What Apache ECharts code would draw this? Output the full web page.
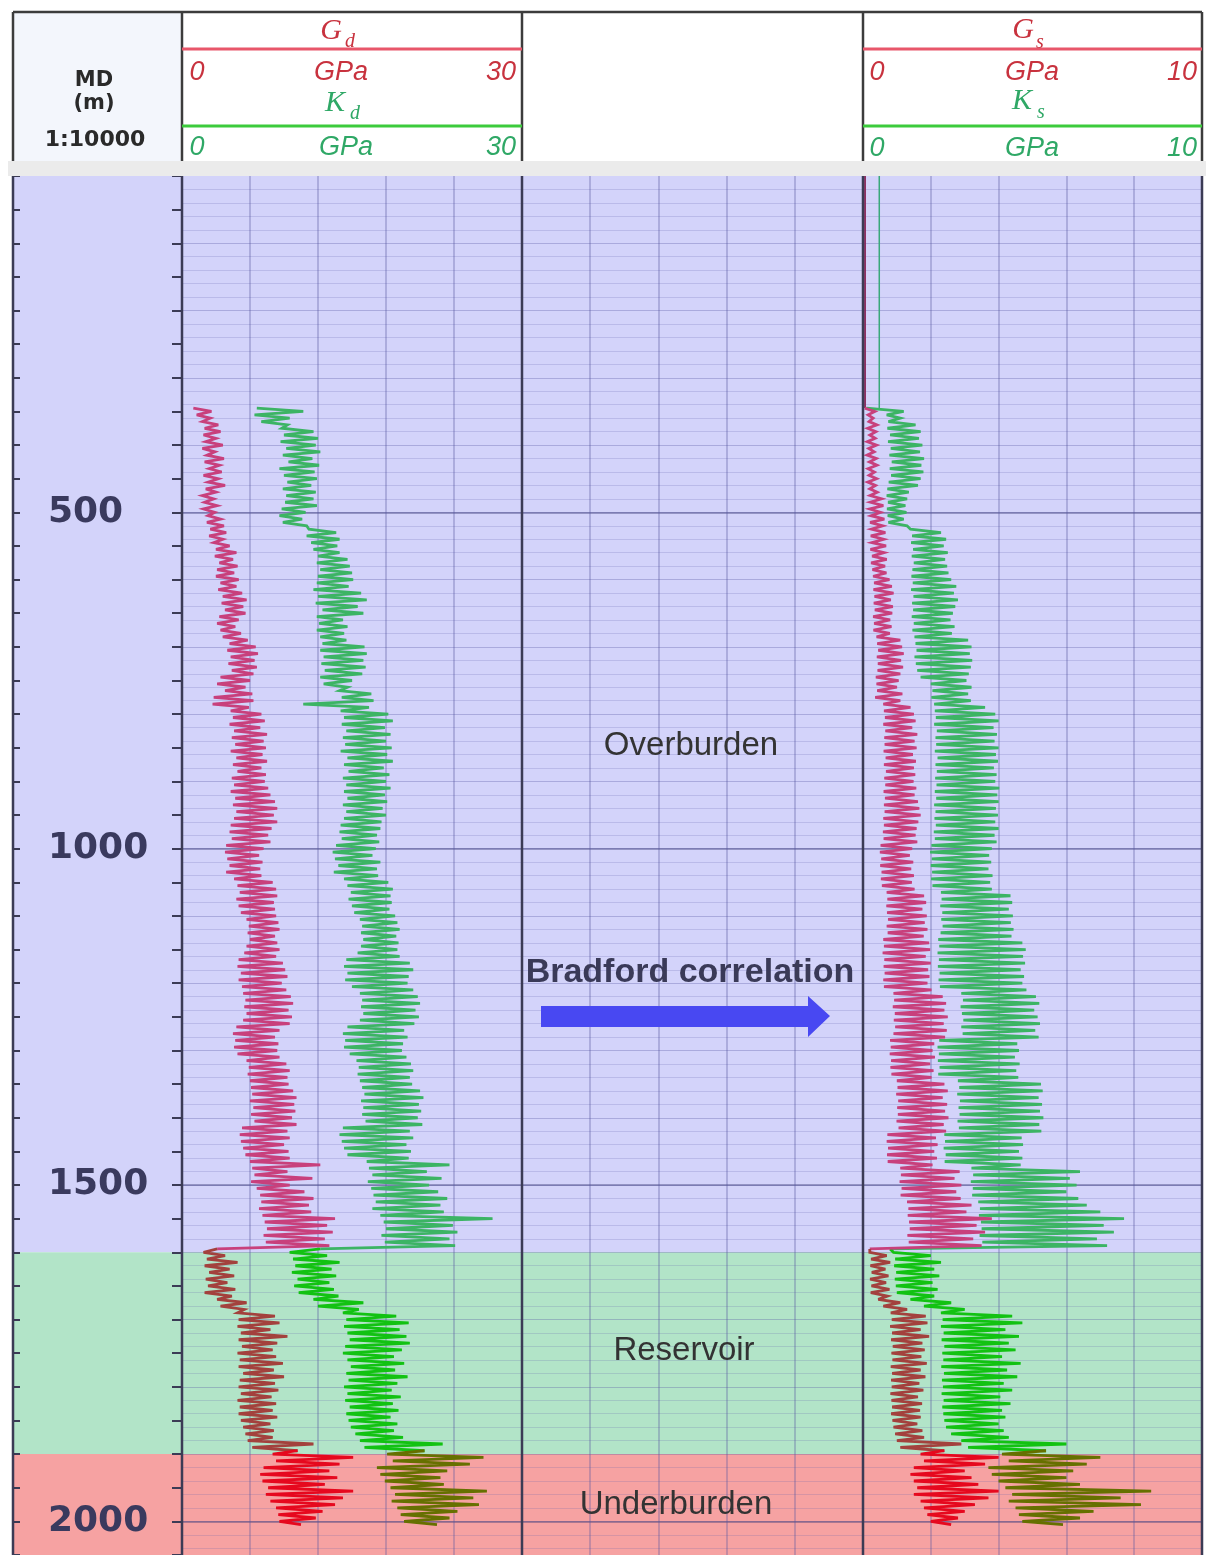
<!DOCTYPE html>
<html>
<head>
<meta charset="utf-8">
<title>Dynamic and static moduli log</title>
<script src="https://cdn.jsdelivr.net/npm/echarts@6/dist/echarts.min.js"></script>
<style>
  html, body { margin: 0; padding: 0; background: #ffffff; }
  #chart { width: 1206px; height: 1555px; }
</style>
</head>
<body>
<div id="chart"></div>
<script>
// ---------------------------------------------------------------
// Depth reference
// ---------------------------------------------------------------
const depthMin = 0;
const depthMax = 2050;
const depthTickStep = 50;
const depthLabels = [500, 1000, 1500, 2000];

// Zones along the well
const zoneNames = ['Overburden', 'Reservoir', 'Underburden'];
const zoneTops = [0, 1600, 1900];
const zoneBases = [1600, 1900, 2050];

// Track scales (GPa)
const dynamicScale = [0, 30];
const staticScale = [0, 10];

// Log samples are read every 5 m from the top of each zone section
const SAMPLE_STEP = 5;
const overburdenTop = 345;
const reservoirTop = 1600;
const underburdenTop = 1900;

// ---------------------------------------------------------------
// Dynamic shear modulus Gd (GPa)
// ---------------------------------------------------------------
const gdOverburden = [
  1.0, 2.6, 1.3, 2.5, 1.8, 3.2, 2.0, 3.4, 1.9, 3.0,   // 345-390
  2.1, 3.6, 1.8, 2.9, 2.2, 3.7, 2.0, 3.3, 2.4, 3.5,   // 395-440
  1.9, 3.2, 2.3, 3.8, 2.1, 3.0, 1.8, 2.8, 2.0, 3.1,   // 445-490
  1.9, 2.9, 2.3, 3.4, 2.2, 3.7, 2.5, 3.9, 2.4, 3.6,   // 495-540
  2.8, 4.2, 3.0, 4.8, 2.9, 4.5, 3.3, 4.9, 3.1, 4.6,   // 545-590
  3.0, 5.0, 3.4, 4.8, 3.2, 5.3, 3.6, 5.7, 3.5, 5.4,   // 595-640
  3.8, 5.6, 3.3, 5.0, 3.1, 4.7, 3.4, 5.2, 3.6, 5.8,   // 645-690
  4.2, 6.5, 4.0, 6.7, 4.3, 6.4, 4.1, 6.6, 4.4, 6.3,   // 695-740
  3.4, 6.0, 3.1, 5.6, 3.8, 6.2, 2.8, 6.3, 2.7, 5.9,   // 745-790
  4.3, 7.0, 4.5, 7.3, 4.2, 6.9, 4.6, 7.5, 4.4, 7.2,   // 795-840
  4.7, 7.4, 4.3, 7.1, 4.8, 7.5, 4.5, 7.0, 4.9, 7.4,   // 845-890
  4.4, 7.3, 4.6, 7.6, 4.3, 7.8, 4.7, 8.2, 4.5, 8.4,   // 895-940
  4.8, 8.1, 4.6, 8.4, 4.3, 7.9, 4.2, 7.6, 4.4, 7.8,   // 945-990
  3.9, 7.2, 3.8, 6.8, 4.0, 7.1, 4.2, 6.9, 3.9, 7.0,   // 995-1040
  4.6, 8.0, 4.9, 8.3, 5.1, 8.4, 4.8, 8.1, 5.0, 8.2,   // 1045-1090
  5.2, 8.3, 5.7, 8.5, 5.9, 8.6, 5.8, 8.2, 6.0, 8.4,   // 1095-1140
  5.7, 8.6, 5.5, 8.3, 5.0, 8.9, 4.9, 9.1, 5.2, 9.3,   // 1145-1190
  5.0, 8.8, 5.3, 9.2, 5.4, 9.6, 5.6, 9.8, 5.5, 9.4,   // 1195-1240
  5.7, 9.7, 5.4, 9.5, 4.8, 8.6, 4.5, 8.2, 4.7, 8.5,   // 1245-1290
  4.6, 8.4, 4.9, 8.6, 5.7, 9.2, 5.9, 9.5, 5.8, 9.3,   // 1295-1340
  6.0, 9.4, 6.1, 9.8, 6.2, 10.1, 6.0, 9.9, 6.3, 10.0, // 1345-1390
  6.1, 9.7, 6.4, 10.1, 5.3, 9.3, 5.1, 9.5, 5.2, 9.0,  // 1395-1440
  5.4, 9.4, 5.6, 9.5, 6.0, 12.2, 6.2, 9.3, 6.4, 11.5, // 1445-1490
  6.1, 9.5, 6.6, 10.8, 6.9, 11.6, 7.0, 11.2, 6.8, 11.4, // 1495-1540
  7.1, 13.5, 7.3, 12.8, 7.5, 13.3, 7.2, 12.6, 7.4, 13.0, // 1545-1590
  3.1                                                  // 1595
];
const gdReservoir = [
  1.9, 3.8, 2.2, 4.9, 2.0, 4.2, 2.4, 4.6, 2.1, 4.0,   // 1600-1645
  2.3, 4.7, 2.0, 4.4, 3.1, 5.7, 3.4, 5.5, 4.9, 8.2,   // 1650-1695
  5.0, 8.6, 4.9, 7.8, 5.2, 9.3, 5.0, 8.4, 5.3, 8.0,   // 1700-1745
  4.9, 8.3, 5.1, 8.9, 5.0, 8.1, 5.4, 9.0, 5.1, 8.2,   // 1750-1795
  5.0, 8.5, 5.2, 7.9, 4.9, 8.3, 5.1, 8.0, 5.0, 8.4,   // 1800-1845
  5.2, 7.8, 5.4, 8.1, 5.6, 8.0, 5.8, 11.6, 6.2, 10.2  // 1850-1895
];
const gdUnderburden = [
  8.0, 15.1, 8.3, 13.9, 7.2, 13.0, 6.9, 13.7, 7.1, 12.6, // 1900-1945
  7.6, 15.1, 7.4, 14.2, 7.8, 13.5, 8.3, 12.4, 8.5, 11.8, // 1950-1995
  8.6, 10.5                                              // 2000-2005
];

// ---------------------------------------------------------------
// Dynamic bulk modulus Kd (GPa)
// ---------------------------------------------------------------
const kdOverburden = [
  6.6, 10.7, 6.4, 9.5, 7.0, 9.3, 8.8, 11.6, 9.0, 12.0,   // 345-390
  8.7, 11.8, 9.2, 12.2, 8.9, 11.5, 9.4, 12.1, 8.6, 11.7, // 395-440
  9.0, 11.9, 9.3, 11.4, 8.9, 11.8, 9.2, 11.6, 9.1, 11.9, // 445-490
  8.8, 10.9, 8.6, 10.6, 8.9, 11.0, 11.2, 13.6, 11.0, 13.9, // 495-540
  11.4, 13.7, 11.6, 13.9, 12.0, 14.6, 11.9, 14.8, 12.2, 15.0, // 545-590
  12.0, 15.1, 11.9, 14.7, 11.6, 15.8, 12.0, 16.3, 11.8, 15.5, // 595-640
  12.4, 16.0, 11.9, 14.2, 12.1, 14.6, 11.9, 14.3, 12.2, 14.5, // 645-690
  12.4, 16.1, 12.2, 16.3, 12.5, 16.0, 12.3, 16.2, 12.6, 15.9, // 695-740
  12.2, 15.0, 12.5, 14.6, 13.9, 16.7, 14.1, 16.9, 10.7, 16.5, // 745-790
  14.0, 18.2, 14.3, 18.6, 14.1, 17.9, 14.5, 18.4, 14.2, 18.0, // 795-840
  14.4, 18.5, 14.0, 18.1, 14.6, 18.6, 14.3, 17.8, 14.7, 18.3, // 845-890
  14.2, 18.0, 14.5, 18.4, 14.3, 17.9, 14.6, 18.1, 14.2, 17.7, // 895-940
  14.5, 18.0, 14.3, 17.6, 14.0, 17.5, 13.9, 17.2, 14.1, 17.4, // 945-990
  13.6, 17.1, 13.3, 16.8, 13.5, 17.5, 13.8, 17.2, 13.4, 17.3, // 995-1040
  14.3, 18.2, 14.6, 18.6, 14.9, 18.4, 14.7, 18.5, 15.0, 18.3, // 1045-1090
  15.2, 18.8, 15.7, 19.0, 15.9, 19.2, 15.8, 18.9, 16.0, 19.1, // 1095-1140
  15.8, 19.0, 15.5, 19.2, 14.5, 20.1, 14.3, 20.4, 14.6, 20.0, // 1145-1190
  14.4, 19.9, 15.0, 20.4, 15.7, 20.8, 15.9, 21.0, 15.8, 20.6, // 1195-1240
  16.0, 20.9, 15.7, 20.5, 14.6, 19.6, 14.2, 19.9, 14.4, 19.5, // 1245-1290
  14.3, 19.4, 14.8, 19.8, 15.4, 20.2, 15.6, 20.4, 15.5, 20.1, // 1295-1340
  15.7, 20.3, 15.9, 21.0, 16.1, 21.3, 15.8, 20.9, 16.0, 21.1, // 1345-1390
  15.9, 20.8, 16.2, 21.2, 14.2, 20.1, 13.9, 20.4, 14.1, 19.8, // 1395-1440
  14.3, 20.2, 14.6, 20.0, 16.3, 23.6, 16.5, 21.6, 16.8, 22.9, // 1445-1490
  16.4, 21.8, 16.7, 22.6, 16.9, 23.4, 17.1, 22.8, 16.8, 23.1, // 1495-1540
  17.5, 27.4, 17.8, 23.9, 18.0, 24.3, 17.6, 23.6, 17.9, 24.1, // 1545-1590
  12.2                                                         // 1595
];
const kdReservoir = [
  9.5, 12.8, 9.8, 13.9, 10.0, 13.2, 9.7, 13.6, 10.2, 13.0,   // 1600-1645
  9.9, 13.4, 10.3, 13.8, 11.6, 16.0, 12.0, 15.6, 14.2, 18.9, // 1650-1695
  14.5, 20.0, 14.3, 19.2, 14.6, 19.8, 14.8, 20.1, 14.4, 19.4, // 1700-1745
  14.2, 18.7, 14.6, 19.6, 14.9, 18.8, 14.5, 19.9, 14.7, 19.0, // 1750-1795
  14.3, 18.5, 14.6, 19.3, 14.4, 18.6, 14.8, 19.1, 14.5, 18.4, // 1800-1845
  14.7, 19.0, 14.9, 18.7, 15.3, 19.5, 15.7, 23.0, 16.1, 21.4  // 1850-1895
];
const kdUnderburden = [
  18.1, 26.6, 18.6, 25.4, 17.2, 23.4, 17.5, 22.8, 17.9, 23.1, // 1900-1945
  18.4, 26.9, 18.8, 25.7, 18.5, 26.2, 19.0, 24.3, 19.3, 23.6, // 1950-1995
  19.6, 22.5                                                   // 2000-2005
];

// ---------------------------------------------------------------
// Static shear modulus Gs (GPa), Bradford correlation
// ---------------------------------------------------------------
const shallowDepths = [0, 345];
const gsShallow = [0.06, 0.06];
const ksShallow = [0.48, 0.48];

const gsOverburden = [
  0.05, 0.35, 0.15, 0.30, 0.18, 0.41, 0.14, 0.38, 0.20, 0.36, // 345-390
  0.13, 0.40, 0.17, 0.33, 0.12, 0.39, 0.19, 0.41, 0.15, 0.34, // 395-440
  0.18, 0.40, 0.14, 0.37, 0.20, 0.42, 0.21, 0.55, 0.22, 0.60, // 445-490
  0.20, 0.52, 0.24, 0.63, 0.21, 0.58, 0.25, 0.66, 0.23, 0.61, // 495-540
  0.26, 0.68, 0.22, 0.62, 0.27, 0.70, 0.24, 0.65, 0.28, 0.69, // 545-590
  0.30, 0.78, 0.33, 0.85, 0.31, 0.90, 0.34, 0.82, 0.32, 0.88, // 595-640
  0.35, 0.86, 0.30, 0.80, 0.33, 0.84, 0.31, 0.79, 0.40, 1.10, // 645-690
  0.42, 1.15, 0.45, 1.20, 0.41, 1.12, 0.44, 1.18, 0.43, 1.10, // 695-740
  0.38, 1.05, 0.40, 1.00, 0.42, 1.16, 0.36, 1.10, 0.60, 1.40, // 745-790
  0.62, 1.50, 0.65, 1.55, 0.60, 1.45, 0.66, 1.60, 0.63, 1.52, // 795-840
  0.64, 1.58, 0.61, 1.47, 0.67, 1.56, 0.62, 1.50, 0.68, 1.54, // 845-890
  0.63, 1.49, 0.66, 1.57, 0.61, 1.52, 0.65, 1.62, 0.62, 1.66, // 895-940
  0.64, 1.70, 0.60, 1.63, 0.62, 1.58, 0.59, 1.55, 0.61, 1.60, // 945-990
  0.52, 1.45, 0.50, 1.38, 0.54, 1.48, 0.51, 1.42, 0.55, 1.50, // 995-1040
  0.53, 1.44, 0.56, 1.52, 0.70, 1.80, 0.72, 1.86, 0.69, 1.75, // 1045-1090
  0.71, 1.88, 0.74, 1.82, 0.70, 1.90, 0.73, 1.79, 0.60, 1.95, // 1095-1140
  0.62, 1.98, 0.58, 1.85, 0.63, 2.00, 0.61, 1.92, 0.64, 1.96, // 1145-1190
  0.60, 1.90, 0.62, 2.02, 0.90, 2.35, 0.92, 2.45, 0.88, 2.40, // 1195-1240
  0.94, 2.50, 0.91, 2.38, 0.95, 2.47, 0.90, 2.42, 0.80, 2.10, // 1245-1290
  0.82, 2.05, 0.79, 2.12, 0.83, 1.98, 0.81, 2.08, 0.84, 2.02, // 1295-1340
  1.00, 2.40, 1.02, 2.50, 0.98, 2.35, 1.04, 2.48, 1.01, 2.42, // 1345-1390
  1.03, 2.52, 0.99, 2.38, 1.05, 2.45, 0.72, 2.15, 0.70, 2.20, // 1395-1440
  0.74, 2.10, 0.71, 2.18, 0.73, 2.05, 1.10, 2.85, 1.12, 2.70, // 1445-1490
  1.08, 2.90, 1.14, 2.75, 1.11, 2.88, 1.30, 3.20, 1.34, 3.05, // 1495-1540
  1.32, 3.80, 1.36, 3.35, 1.38, 3.60, 1.31, 3.25, 1.35, 3.50, // 1545-1590
  0.20                                                         // 1595
];
const gsReservoir = [
  0.20, 0.70, 0.24, 0.80, 0.22, 0.66, 0.26, 0.75, 0.21, 0.68, // 1600-1645
  0.25, 0.78, 0.23, 0.72, 0.45, 1.10, 0.60, 1.30, 0.82, 1.85, // 1650-1695
  0.85, 1.90, 0.80, 1.70, 0.86, 1.95, 0.83, 1.75, 0.88, 1.82, // 1700-1745
  0.84, 1.72, 0.87, 1.88, 0.82, 1.70, 0.86, 1.84, 0.83, 1.66, // 1750-1795
  0.85, 1.78, 0.81, 1.62, 0.84, 1.74, 0.86, 1.68, 0.83, 1.70, // 1800-1845
  0.87, 1.60, 0.90, 1.75, 0.95, 1.80, 1.00, 2.90, 1.10, 2.40  // 1850-1895
];
const gsUnderburden = [
  1.7, 4.0, 1.8, 3.6, 1.5, 3.0, 1.4, 3.2, 1.5, 3.4, // 1900-1945
  1.6, 4.0, 1.5, 3.7, 1.7, 3.3, 1.8, 3.0, 1.9, 2.8, // 1950-1995
  2.0, 2.6                                          // 2000-2005
];

// ---------------------------------------------------------------
// Static bulk modulus Ks (GPa), Bradford correlation
// ---------------------------------------------------------------
const ksOverburden = [
  0.10, 1.20, 0.70, 1.10, 0.75, 1.55, 0.72, 1.70, 0.80, 1.65, // 345-390
  0.74, 1.75, 0.82, 1.68, 0.78, 1.80, 0.85, 1.72, 0.79, 1.78, // 395-440
  0.83, 1.70, 0.76, 1.62, 0.72, 1.35, 0.70, 1.30, 0.74, 1.25, // 445-490
  0.71, 1.28, 0.73, 1.20, 0.75, 1.30, 1.40, 2.30, 1.45, 2.45, // 495-540
  1.42, 2.38, 1.48, 2.50, 1.44, 2.42, 1.50, 2.48, 1.46, 2.52, // 545-590
  1.43, 2.60, 1.47, 2.75, 1.42, 2.68, 1.49, 2.80, 1.45, 2.72, // 595-640
  1.48, 2.65, 1.44, 2.58, 1.50, 2.70, 1.46, 2.62, 1.52, 3.10, // 645-690
  1.55, 3.20, 1.58, 3.15, 1.52, 3.22, 1.56, 3.18, 1.60, 3.12, // 695-740
  1.70, 3.05, 2.00, 3.20, 2.05, 3.10, 2.02, 3.18, 2.10, 3.60, // 745-790
  2.12, 3.90, 2.15, 4.00, 2.10, 3.85, 2.18, 3.95, 2.14, 3.88, // 795-840
  2.16, 4.00, 2.12, 3.92, 2.20, 3.98, 2.14, 3.86, 2.18, 3.94, // 845-890
  2.13, 3.90, 2.17, 4.02, 2.12, 3.96, 2.16, 4.00, 2.10, 3.92, // 895-940
  2.14, 3.98, 2.11, 3.90, 2.15, 4.00, 2.09, 3.88, 2.12, 3.94, // 945-990
  2.02, 3.80, 1.98, 3.72, 2.03, 3.78, 2.00, 3.70, 2.04, 3.82, // 995-1040
  2.01, 3.75, 2.05, 3.80, 2.30, 4.35, 2.32, 4.40, 2.28, 4.30, // 1045-1090
  2.34, 4.42, 2.31, 4.36, 2.35, 4.44, 2.29, 4.38, 2.22, 4.70, // 1095-1140
  2.25, 4.80, 2.20, 4.72, 2.24, 4.78, 2.21, 4.65, 2.26, 4.75, // 1145-1190
  2.23, 4.70, 2.27, 4.82, 2.90, 5.10, 2.95, 5.20, 2.88, 5.05, // 1195-1240
  2.92, 5.15, 2.96, 5.22, 2.90, 5.08, 2.94, 5.18, 2.25, 4.55, // 1245-1290
  2.20, 4.60, 2.24, 4.48, 2.21, 4.62, 2.26, 4.52, 2.22, 4.58, // 1295-1340
  2.80, 5.25, 2.84, 5.30, 2.78, 5.18, 2.86, 5.28, 2.82, 5.22, // 1345-1390
  2.85, 5.32, 2.79, 5.20, 2.83, 5.26, 2.40, 4.68, 2.42, 4.72, // 1395-1440
  2.38, 4.60, 2.44, 4.70, 2.41, 4.65, 3.20, 6.40, 3.25, 6.10, // 1445-1490
  3.18, 6.30, 3.24, 6.00, 3.22, 6.35, 3.40, 6.60, 3.45, 7.00, // 1495-1540
  3.42, 7.70, 3.48, 7.10, 3.50, 7.40, 3.44, 6.90, 3.52, 7.20, // 1545-1590
  0.80                                                         // 1595
];
const ksReservoir = [
  0.90, 2.00, 0.95, 2.30, 0.92, 2.10, 0.98, 2.25, 0.94, 2.05, // 1600-1645
  0.97, 2.20, 1.00, 2.10, 1.40, 2.60, 1.80, 3.00, 2.30, 4.40, // 1650-1695
  2.35, 4.70, 2.30, 4.20, 2.38, 4.60, 2.32, 4.30, 2.40, 4.50, // 1700-1745
  2.34, 4.10, 2.37, 4.65, 2.31, 4.25, 2.39, 4.55, 2.33, 4.15, // 1750-1795
  2.36, 4.40, 2.32, 4.05, 2.38, 4.35, 2.34, 4.10, 2.37, 4.20, // 1800-1845
  2.40, 4.00, 2.45, 4.15, 2.60, 4.30, 2.90, 6.00, 3.10, 5.40  // 1850-1895
];
const ksUnderburden = [
  4.1, 7.0, 4.3, 6.6, 3.7, 6.2, 3.8, 6.0, 4.0, 6.4, // 1900-1945
  4.2, 8.5, 4.4, 7.6, 4.3, 8.2, 4.5, 6.8, 4.6, 6.4, // 1950-1995
  4.7, 5.9                                          // 2000-2005
];

// ---------------------------------------------------------------
// Styling
// ---------------------------------------------------------------
const zoneFill = ['#d3d3fa', '#b2e4c8', '#f6a2a2'];
const shearColors = ['#c8407c', '#a3413d', '#e6081e'];
const bulkColors = ['#3cb464', '#12c212', '#667000'];
const borderColor = '#3b3b55';
const headerRed = '#c8323e';
const headerGreen = '#2fa866';
const lineRed = '#e8566a';
const lineGreen = '#3ccb3c';
const curveWidth = 2.8;

const plotTop = 176;
const plotHeight = 1379;
const depthTrack = { left: 13, width: 169 };
const trackDyn = { left: 182, width: 340 };
const trackMid = { left: 522, width: 341 };
const trackStat = { left: 863, width: 339 };

function trace(values, top) {
  return values.map((v, i) => [v, top + i * SAMPLE_STEP]);
}
function lastPoint(values, top) {
  const i = values.length - 1;
  return [values[i], top + i * SAMPLE_STEP];
}
// one curve split into coloured zone sections, joined at the zone tops
function zoneSections(name, parts, colors, xi, yi) {
  const [over, res, under] = parts;
  const sections = [
    trace(over, overburdenTop),
    [lastPoint(over, overburdenTop)].concat(trace(res, reservoirTop)),
    [lastPoint(res, reservoirTop)].concat(trace(under, underburdenTop))
  ];
  return sections.map((data, k) => ({
    name: name,
    type: 'line',
    xAxisIndex: xi,
    yAxisIndex: yi,
    data: data,
    symbol: 'none',
    z: 5,
    lineStyle: { color: colors[k], width: curveWidth, join: 'miter', miterLimit: 4 },
    silent: true
  }));
}

function zoneBackground(xi, yi) {
  return {
    type: 'line',
    xAxisIndex: xi,
    yAxisIndex: yi,
    data: [],
    silent: true,
    markArea: {
      silent: true,
      label: { show: false },
      data: zoneNames.map((n, k) => [
        { name: n, yAxis: zoneTops[k], itemStyle: { color: zoneFill[k], opacity: 1 } },
        { yAxis: zoneBases[k] }
      ])
    }
  };
}

const gridDefs = [depthTrack, trackDyn, trackMid, trackStat];
const grids = gridDefs.map(g => ({
  left: g.left, width: g.width, top: plotTop, height: plotHeight,
  containLabel: false, show: false
}));

const vSplit = { show: true, lineStyle: { color: 'rgba(85,85,160,0.42)', width: 1.5 } };
function trackX(gridIndex, scale, interval) {
  return {
    type: 'value', gridIndex: gridIndex, min: scale[0], max: scale[1], interval: interval,
    axisLine: { show: false }, axisTick: { show: false }, axisLabel: { show: false },
    splitLine: Object.assign({ showMinLine: false, showMaxLine: false }, vSplit), z: 3
  };
}
const xAxes = [
  { type: 'value', gridIndex: 0, min: 0, max: 1, show: false },
  trackX(1, dynamicScale, 6),
  trackX(2, [0, 5], 1),
  trackX(3, staticScale, 2)
];

function depthBase(gridIndex) {
  return {
    type: 'value', gridIndex: gridIndex, inverse: true, min: depthMin, max: depthMax,
    axisLabel: { show: false }, axisTick: { show: false }, axisLine: { show: false }, z: 3
  };
}
function trackY(gridIndex) {
  return Object.assign(depthBase(gridIndex), {
    interval: 100,
    splitLine: { show: true, showMinLine: false, showMaxLine: false,
      lineStyle: { color: 'rgba(90,90,165,0.34)', width: 1.2 } },
    minorTick: { show: false, splitNumber: 5 },
    minorSplitLine: { show: true, lineStyle: { color: 'rgba(100,100,175,0.22)', width: 1 } }
  });
}
function trackYMajor(gridIndex) {
  return Object.assign(depthBase(gridIndex), {
    interval: 500,
    splitLine: { show: true, showMinLine: false, showMaxLine: false,
      lineStyle: { color: 'rgba(60,60,120,0.55)', width: 1.6 } }
  });
}

const yAxes = [
  // depth scale: labels and left-hand ticks
  Object.assign(depthBase(0), {
    position: 'left', interval: depthTickStep,
    axisTick: { show: true, inside: true, length: 7, lineStyle: { color: borderColor, width: 2 } },
    axisLabel: {
      show: true, inside: true, margin: 35, align: 'left',
      fontFamily: 'DejaVu Sans', fontWeight: 'bold', fontSize: 36, color: '#3a3a5e',
      formatter: v => (depthLabels.indexOf(v) >= 0 ? String(v) : '')
    },
    splitLine: { show: false }
  }),
  // right-hand ticks of the depth column
  Object.assign(depthBase(0), {
    position: 'right', interval: depthTickStep,
    axisTick: { show: true, inside: true, length: 10, lineStyle: { color: borderColor, width: 2 } },
    splitLine: { show: false }
  }),
  trackY(1), trackYMajor(1),
  trackY(2), trackYMajor(2),
  trackY(3), trackYMajor(3)
];

const series = [
  zoneBackground(0, 0),
  zoneBackground(1, 2),
  zoneBackground(2, 4),
  zoneBackground(3, 6)
]
  .concat(zoneSections('Kd', [kdOverburden, kdReservoir, kdUnderburden], bulkColors, 1, 2))
  .concat(zoneSections('Gd', [gdOverburden, gdReservoir, gdUnderburden], shearColors, 1, 2))
  .concat([
    { name: 'Ks', type: 'line', xAxisIndex: 3, yAxisIndex: 6, symbol: 'none', z: 5, silent: true,
      data: shallowDepths.map((d, i) => [ksShallow[i], d]),
      lineStyle: { color: '#3aa87a', width: 1.5 } },
    { name: 'Gs', type: 'line', xAxisIndex: 3, yAxisIndex: 6, symbol: 'none', z: 5, silent: true,
      data: shallowDepths.map((d, i) => [gsShallow[i], d]),
      lineStyle: { color: '#8a2458', width: 1.8 } }
  ])
  .concat(zoneSections('Ks', [ksOverburden, ksReservoir, ksUnderburden], bulkColors, 3, 6))
  .concat(zoneSections('Gs', [gsOverburden, gsReservoir, gsUnderburden], shearColors, 3, 6));

// ---------------------------------------------------------------
// Header, borders and annotations
// ---------------------------------------------------------------
const sansItalic = 'italic 27px "Liberation Sans", Arial, sans-serif';
const serifItalic = (s) => 'italic ' + s + 'px "Liberation Serif", "DejaVu Serif", serif';
function txt(x, y, text, font, fill, align, extra) {
  return Object.assign({
    type: 'text', x: x, y: y, z: 100, silent: true,
    style: { text: text, font: font, fill: fill, align: align || 'center', verticalAlign: 'middle' }
  }, extra || {});
}
function seg(x1, y1, x2, y2, stroke, w) {
  return { type: 'line', z: 90, silent: true,
    shape: { x1: x1, y1: y1, x2: x2, y2: y2 }, style: { stroke: stroke, lineWidth: w } };
}
const trackEdges = [13, 182, 522, 863, 1202];
const headerTop = 12;
const headerBottom = 161;

const graphics = [
  { type: 'rect', z: 80, silent: true, shape: { x: 14, y: 13, width: 167, height: 148 }, style: { fill: '#f3f6fc' } },
  { type: 'rect', z: 80, silent: true, shape: { x: 8, y: headerBottom, width: 1198, height: plotTop - headerBottom }, style: { fill: '#ebebeb' } },
  seg(13, headerTop, 1202, headerTop, '#3c3c3c', 2.5)
];
trackEdges.forEach(x => {
  graphics.push(seg(x, headerTop, x, headerBottom, '#3c3c3c', 2.5));
  graphics.push(seg(x, plotTop, x, plotTop + plotHeight, borderColor, 2.5));
});
// curve scale bars
graphics.push(seg(182, 49, 522, 49, lineRed, 3));
graphics.push(seg(863, 49, 1202, 49, lineRed, 3));
graphics.push(seg(182, 126, 522, 126, lineGreen, 3));
graphics.push(seg(863, 126, 1202, 126, lineGreen, 3));

// depth column title
const titleFont = (s) => 'bold ' + s + 'px "DejaVu Sans", Verdana, sans-serif';
graphics.push(txt(94, 81, 'MD', titleFont(21), '#2a2a2a'));
graphics.push(txt(94, 104, '(m)', titleFont(21), '#2a2a2a'));
graphics.push(txt(95, 140, '1:10000', titleFont(22), '#2a2a2a'));

// dynamic track header
graphics.push(txt(331, 31, 'G', serifItalic(30), headerRed));
graphics.push(txt(350, 42, 'd', serifItalic(20), headerRed));
graphics.push(txt(197, 72, String(dynamicScale[0]), sansItalic, headerRed));
graphics.push(txt(341, 72, 'GPa', sansItalic, headerRed));
graphics.push(txt(516, 72, String(dynamicScale[1]), sansItalic, headerRed, 'right'));
graphics.push(txt(335, 103, 'K', serifItalic(30), headerGreen));
graphics.push(txt(355, 114, 'd', serifItalic(20), headerGreen));
graphics.push(txt(197, 147, String(dynamicScale[0]), sansItalic, headerGreen));
graphics.push(txt(346, 147, 'GPa', sansItalic, headerGreen));
graphics.push(txt(516, 147, String(dynamicScale[1]), sansItalic, headerGreen, 'right'));

// static track header
graphics.push(txt(1023, 30, 'G', serifItalic(30), headerRed));
graphics.push(txt(1040, 43, 's', serifItalic(20), headerRed));
graphics.push(txt(877, 72, String(staticScale[0]), sansItalic, headerRed));
graphics.push(txt(1032, 72, 'GPa', sansItalic, headerRed));
graphics.push(txt(1197, 72, String(staticScale[1]), sansItalic, headerRed, 'right'));
graphics.push(txt(1022, 101, 'K', serifItalic(30), headerGreen));
graphics.push(txt(1041, 113, 's', serifItalic(20), headerGreen));
graphics.push(txt(877, 148, String(staticScale[0]), sansItalic, headerGreen));
graphics.push(txt(1032, 148, 'GPa', sansItalic, headerGreen));
graphics.push(txt(1197, 148, String(staticScale[1]), sansItalic, headerGreen, 'right'));

// zone names and correlation arrow in the middle track
const zoneLabelFont = '33px "Liberation Sans", Arial, sans-serif';
graphics.push(txt(691, 746, zoneNames[0], zoneLabelFont, '#333333'));
graphics.push(txt(684, 1351, zoneNames[1], zoneLabelFont, '#333333'));
graphics.push(txt(676, 1505, zoneNames[2], zoneLabelFont, '#333333'));
graphics.push(txt(690, 973, 'Bradford correlation', 'bold 34px "Liberation Sans", Arial, sans-serif', '#3a3a58'));
graphics.push({
  type: 'polygon', z: 100, silent: true,
  shape: { points: [[541, 1006], [808, 1006], [808, 996], [830, 1016], [808, 1037], [808, 1027], [541, 1027]] },
  style: { fill: '#4848f2' }
});

const chart = echarts.init(document.getElementById('chart'), null, { renderer: 'canvas' });
chart.setOption({
  animation: false,
  backgroundColor: '#ffffff',
  grid: grids,
  xAxis: xAxes,
  yAxis: yAxes,
  series: series,
  graphic: { elements: graphics }
});
</script>
</body>
</html>
